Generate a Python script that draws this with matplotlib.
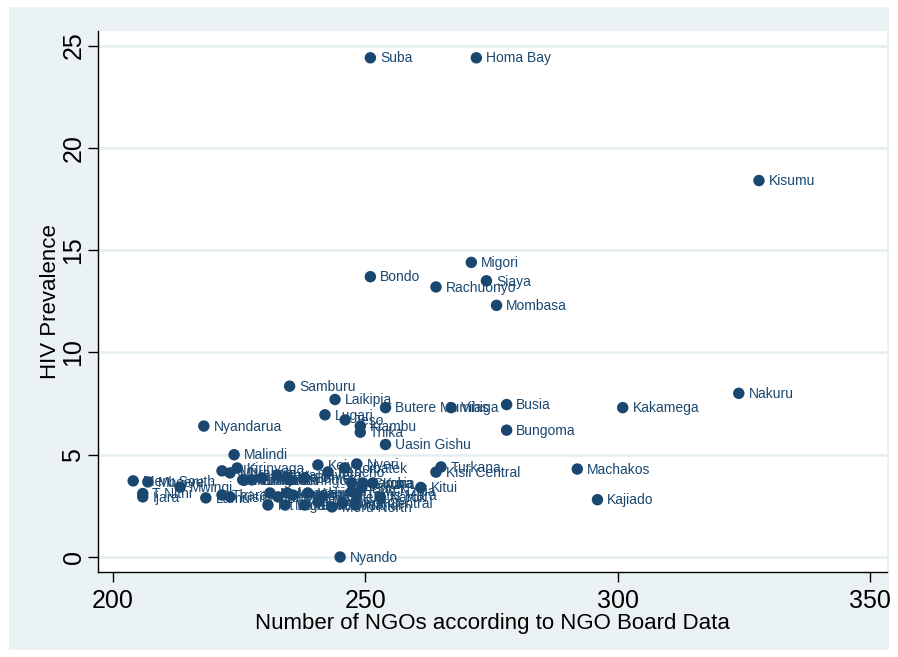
import matplotlib
matplotlib.use("Agg")
import matplotlib.pyplot as plt
from matplotlib.patches import Rectangle

# District-level data: number of NGOs vs HIV prevalence (%)
districts = [
    "Suba", "Homa Bay", "Kisumu", "Migori", "Siaya", "Bondo", "Rachuonyo",
    "Mombasa", "Samburu", "Laikipia", "Butere Mumias", "Vihiga", "Busia",
    "Kakamega", "Nakuru", "Lugari", "Teso", "Kiambu", "Thika", "Nyandarua",
    "Bungoma", "Uasin Gishu", "Malindi", "Machakos", "Kajiado", "Nyando",
    "Turkana", "Kisii Central", "Kitui", "Narok", "Trans Nzoia", "Nyeri",
    "Meru South", "Mbeere", "Mwingi", "Ijara", "T Nithi", "Lamu", "Tharaka",
    "Kirinyaga", "Kilifi", "Murang'a", "Maragua", "Embu", "Kwale",
    "Taita Taveta", "Isiolo", "Baringo", "Bomet", "Keiyo", "Kericho",
    "Koibatek", "Nyamira", "Gucha", "Kuria", "Buret", "Trans Mara", "Nandi",
    "Marakwet", "Mt Elgon", "Makueni", "Moyale", "Marsabit", "Garissa",
    "Wajir", "Mandera", "Tana River", "West Pokot", "Meru North",
    "Meru Central", "Kisii North", "Kilifi North",
]
ngos = [
    251, 272, 328, 271, 274, 251, 264,
    276, 235, 244, 254, 267, 278,
    301, 324, 242, 246, 249, 249, 218,
    278, 254, 224, 292, 296, 245,
    265, 264, 261, 253, 247.3, 248.3,
    204, 206.9, 213.3, 205.9, 205.9, 218.4, 221.6,
    224.6, 221.6, 223.2, 225.7, 227.5, 229.5,
    232.5, 234.5, 235.1, 238.0, 240.6, 242.6,
    245.9, 247.3, 249.5, 251.5, 249.3, 248.3, 248.1,
    234.1, 230.7, 231.1, 232.7, 234.5, 235.6,
    238.6, 241.4, 238.0, 240.6, 243.4,
    245.5, 223.2, 226.0,
]
hiv = [
    24.4, 24.4, 18.4, 14.4, 13.5, 13.7, 13.2,
    12.3, 8.35, 7.7, 7.3, 7.3, 7.45,
    7.3, 8.0, 6.95, 6.7, 6.4, 6.1, 6.4,
    6.2, 5.5, 5.0, 4.3, 2.8, 0.0,
    4.4, 4.15, 3.4, 2.9, 3.2, 4.55,
    3.72, 3.67, 3.42, 2.94, 3.1, 2.89, 3.03,
    4.35, 4.21, 4.11, 3.77, 3.77, 3.87,
    4.01, 3.91, 3.77, 3.87, 4.5, 4.16,
    4.35, 3.62, 3.62, 3.62, 3.38, 3.03, 2.54,
    2.54, 2.54, 3.13, 2.94, 3.13, 3.03,
    3.13, 2.94, 2.54, 2.69, 2.45,
    2.64, 2.94, 3.75,
]

x_ticks = [200, 250, 300, 350]
y_ticks = [0, 5, 10, 15, 20, 25]

NAVY = "#1a476f"
BG = "#eaf2f3"

W, H = 898, 657
fig = plt.figure(figsize=(W / 100, H / 100), dpi=100, facecolor="white")

# Light graph region framed by a thin white margin
fig.patches.append(Rectangle((9 / W, 7 / H), (W - 18) / W, (H - 14) / H,
                             transform=fig.transFigure, facecolor=BG,
                             edgecolor="none", zorder=-10))

left, right, top, bottom = 98, 887, 31, 572
ax = fig.add_axes([left / W, 1 - bottom / H, (right - left) / W, (bottom - top) / H])
ax.set_zorder(1)
ax.set_facecolor("white")

ax.set_xlim(197.03, 353.37)
ax.set_ylim(-0.733, 25.71)

ax.set_yticks(y_ticks)
ax.set_xticks(x_ticks)
ax.set_axisbelow(True)
ax.grid(axis="y", color="#e4eef0", linewidth=1.8)
ax.grid(axis="x", visible=False)

for s in ("top", "right"):
    ax.spines[s].set_visible(False)
for s in ("left", "bottom"):
    ax.spines[s].set_color("black")
    ax.spines[s].set_linewidth(1.0)

font = "Liberation Sans"
ax.tick_params(axis="both", direction="out", length=7, width=1.0,
               color="black", labelsize=18)
ax.tick_params(axis="x", pad=5)
ax.tick_params(axis="y", pad=2)
for lab in ax.get_xticklabels() + ax.get_yticklabels():
    lab.set_fontfamily(font)
for lab in ax.get_yticklabels():
    lab.set_rotation(90)
    lab.set_va("center")

ax.set_xlabel("Number of NGOs according to NGO Board Data", fontsize=16,
              fontfamily=font, labelpad=0)
ax.set_ylabel("HIV Prevalence", fontsize=16, fontfamily=font, labelpad=0)

ax.scatter(ngos, hiv, s=68, color=NAVY, edgecolors="none", zorder=3,
           clip_on=False)
for name, xv, yv in zip(districts, ngos, hiv):
    ax.annotate(name, (xv, yv), xytext=(7, -0.5), textcoords="offset points",
                ha="left", va="center", fontsize=10, color=NAVY,
                fontfamily=font, zorder=4)

fig.savefig("out.png", dpi=100, facecolor="white")
